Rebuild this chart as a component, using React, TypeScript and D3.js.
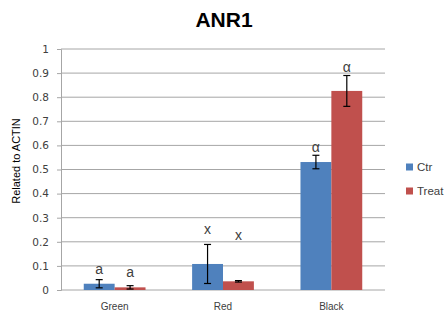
import React, { useEffect, useRef } from 'react'
import * as d3 from 'd3'

const categories = ['Green', 'Red', 'Black']
const series = ['Ctr', 'Treat']
const ctrValues = [0.026, 0.108, 0.531]
const treatValues = [0.011, 0.036, 0.826]
const ctrErrors = [0.017, 0.081, 0.028]
const treatErrors = [0.007, 0.003, 0.064]
const ctrLetters = ['a', 'x', 'α']
const treatLetters = ['a', 'x', 'α']
const ctrLetterAt = [0.066, 0.232, 0.573]
const treatLetterAt = [0.054, 0.207, 0.905]
const yTicks = [0, 0.1, 0.2, 0.3, 0.4, 0.5, 0.6, 0.7, 0.8, 0.9, 1]

const colors = ['#4F81BD', '#C0504D']
const font = '"Liberation Sans", Arial, sans-serif'
const tickFont = '"DejaVu Sans", sans-serif'

const App = () => {
	const ref = useRef<SVGSVGElement>(null)

	useEffect(() => {
		const svg = d3.select(ref.current)
		svg.selectAll('*').remove()

		const left = 61, right = 385, top = 49, bottom = 290

		const x = d3.scaleBand().domain(categories).range([left, right]).paddingInner(0.43).paddingOuter(0.21)
		const xs = d3.scaleBand().domain(series).range([0, x.bandwidth()])
		const y = d3.scaleLinear().domain([0, 1]).range([bottom, top])

		// gridlines
		svg.append('g')
			.selectAll('line')
			.data(yTicks.slice(1))
			.enter()
			.append('line')
			.attr('x1', left)
			.attr('x2', right)
			.attr('y1', d => y(d))
			.attr('y2', d => y(d))
			.attr('stroke', '#A6A6A6')
			.attr('stroke-width', 1)

		// y axis
		const yAxis = svg.append('g')
			.attr('transform', `translate(${left},0)`)
			.call(d3.axisLeft(y).tickValues(yTicks).tickSize(4).tickPadding(8).tickFormat(d3.format('~g')))
		yAxis.select('.domain').attr('stroke', '#A6A6A6')
		yAxis.selectAll('.tick line').attr('stroke', '#A6A6A6')
		yAxis.selectAll('text').attr('font-family', tickFont).attr('font-size', 10.5).attr('fill', '#404040')

		// x axis baseline
		svg.append('line')
			.attr('x1', left).attr('x2', right)
			.attr('y1', bottom).attr('y2', bottom)
			.attr('stroke', '#A6A6A6')

		const groups = [
			{ name: 'Ctr', values: ctrValues, errors: ctrErrors, letters: ctrLetters, letterAt: ctrLetterAt, color: colors[0] },
			{ name: 'Treat', values: treatValues, errors: treatErrors, letters: treatLetters, letterAt: treatLetterAt, color: colors[1] },
		]

		groups.forEach(s => {
			const g = svg.append('g')
			const bx = (i: number) => (x(categories[i]) as number) + (xs(s.name) as number)
			const cx = (i: number) => bx(i) + xs.bandwidth() / 2

			g.selectAll('rect')
				.data(s.values)
				.enter()
				.append('rect')
				.attr('x', (d, i) => bx(i))
				.attr('y', d => y(d))
				.attr('width', xs.bandwidth())
				.attr('height', d => bottom - y(d))
				.attr('fill', s.color)

			const err = g.selectAll('.err')
				.data(s.values)
				.enter()
				.append('g')
			err.append('line')
				.attr('x1', (d, i) => cx(i)).attr('x2', (d, i) => cx(i))
				.attr('y1', (d, i) => y(d + s.errors[i]))
				.attr('y2', (d, i) => y(d - s.errors[i]))
				.attr('stroke', '#000').attr('stroke-width', 1.2)
			err.append('line')
				.attr('x1', (d, i) => cx(i) - 3.5).attr('x2', (d, i) => cx(i) + 3.5)
				.attr('y1', (d, i) => y(d + s.errors[i]))
				.attr('y2', (d, i) => y(d + s.errors[i]))
				.attr('stroke', '#000').attr('stroke-width', 1.2)
			err.append('line')
				.attr('x1', (d, i) => cx(i) - 3.5).attr('x2', (d, i) => cx(i) + 3.5)
				.attr('y1', (d, i) => y(d - s.errors[i]))
				.attr('y2', (d, i) => y(d - s.errors[i]))
				.attr('stroke', '#000').attr('stroke-width', 1.2)

			g.selectAll('.letter')
				.data(s.letters)
				.enter()
				.append('text')
				.attr('x', (d, i) => cx(i))
				.attr('y', (d, i) => y(s.letterAt[i]))
				.attr('text-anchor', 'middle')
				.attr('font-family', font)
				.attr('font-size', 14)
				.attr('fill', '#404040')
				.text(d => d)
		})

		// category labels
		svg.append('g')
			.selectAll('text')
			.data(categories)
			.enter()
			.append('text')
			.attr('x', d => (x(d) as number) + x.bandwidth() / 2)
			.attr('y', 310)
			.attr('text-anchor', 'middle')
			.attr('font-family', font)
			.attr('font-size', 10)
			.attr('fill', '#404040')
			.text(d => d)

		// title
		svg.append('text')
			.attr('x', 224).attr('y', 27)
			.attr('text-anchor', 'middle')
			.attr('font-family', font)
			.attr('font-size', 21)
			.attr('font-weight', 'bold')
			.attr('fill', '#000')
			.text('ANR1')

		// y title
		svg.append('text')
			.attr('transform', 'translate(20,161) rotate(-90)')
			.attr('text-anchor', 'middle')
			.attr('font-family', font)
			.attr('font-size', 11)
			.attr('fill', '#000')
			.text('Related to ACTIN')

		// legend
		const legend = svg.append('g')
			.selectAll('g')
			.data(series)
			.enter()
			.append('g')
			.attr('transform', (d, i) => `translate(406,${167 + i * 24})`)
		legend.append('rect')
			.attr('x', 0).attr('y', -3.5)
			.attr('width', 7).attr('height', 7)
			.attr('fill', (d, i) => colors[i])
		legend.append('text')
			.attr('x', 11).attr('y', 4)
			.attr('font-family', font)
			.attr('font-size', 11.5)
			.attr('fill', '#404040')
			.text(d => d)
	}, [])

	return (
		<svg
			ref={ref}
			width={448}
			height={316}
			style={{ position: 'absolute', left: 0, top: 0, background: '#fff' }}
		></svg>
	)
}

export default App
